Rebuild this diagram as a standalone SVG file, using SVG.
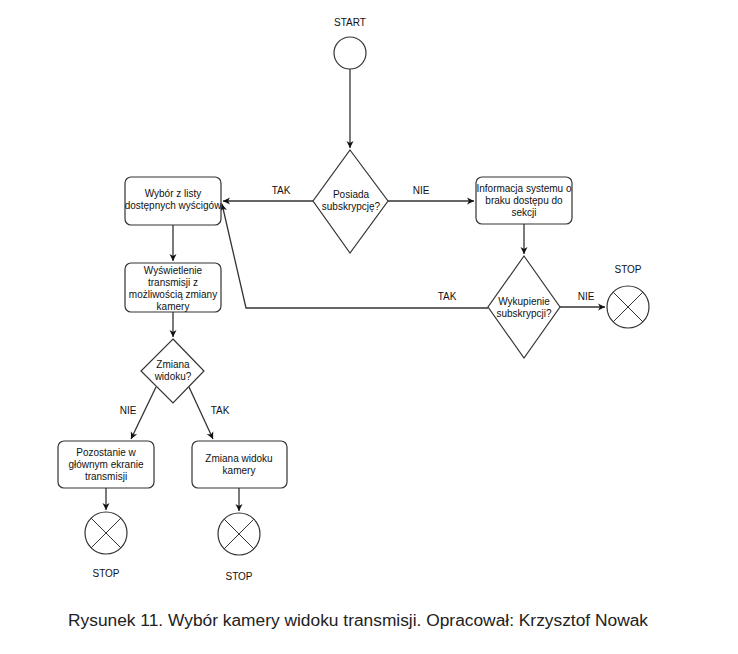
<svg xmlns="http://www.w3.org/2000/svg" width="738" height="654" viewBox="0 0 738 654">
<defs>
<style>
.n{fill:#fff;stroke:#333;stroke-width:1.2}
.t{font-family:"Liberation Sans",Arial,sans-serif;font-size:10px;fill:#111;text-anchor:middle}
.e{stroke:#333;stroke-width:1.3;fill:none}
.x{stroke:#333;stroke-width:1}
.cap{font-family:"Liberation Sans",Arial,sans-serif;font-size:16px;fill:#222}
</style>
<marker id="a" markerWidth="8" markerHeight="8" refX="7" refY="4" orient="auto" markerUnits="userSpaceOnUse">
<path d="M0,0.5 L7,4 L0,7.5 L2,4 Z" fill="#111"/>
</marker>
</defs>
<rect width="738" height="654" fill="#fff"/>
<g id="connectors">
<path class="e" d="M350,69 L350,148" marker-end="url(#a)"/>
<path class="e" d="M313,201 L223,201" marker-end="url(#a)"/>
<path class="e" d="M388,201 L474,201" marker-end="url(#a)"/>
<path class="e" d="M173,225 L173,261" marker-end="url(#a)"/>
<path class="e" d="M524,224 L524,254" marker-end="url(#a)"/>
<path class="e" d="M488,308 L246,308 L222,204" marker-end="url(#a)"/>
<path class="e" d="M560,307 L605,307" marker-end="url(#a)"/>
<path class="e" d="M173,312 L173,337" marker-end="url(#a)"/>
<path class="e" d="M156,387 L131,439" marker-end="url(#a)"/>
<path class="e" d="M189,387 L213,439" marker-end="url(#a)"/>
<path class="e" d="M106,488 L106,510" marker-end="url(#a)"/>
<path class="e" d="M239,488 L239,511" marker-end="url(#a)"/>
<text class="t" x="281" y="194">TAK</text>
<text class="t" x="421" y="194">NIE</text>
<text class="t" x="447" y="300">TAK</text>
<text class="t" x="586" y="300">NIE</text>
<text class="t" x="128" y="414">NIE</text>
<text class="t" x="220" y="414">TAK</text>
</g>
<g id="start">
<circle class="n" cx="350" cy="53" r="16"/>
<text class="t" x="350" y="26">START</text>
</g>
<g id="posiada">
<path class="n" d="M350,150 L388,201 L350,253 L313,201 Z"/>
<text class="t" x="351" y="198">Posiada</text>
<text class="t" x="351" y="210">subskrypcję?</text>
</g>
<g id="wybor">
<rect class="n" x="125" y="177" width="96" height="48" rx="6"/>
<text class="t" x="173" y="197">Wybór z listy</text>
<text class="t" x="173" y="209">dostępnych wyścigów</text>
</g>
<g id="informacja">
<rect class="n" x="476" y="177" width="96" height="47" rx="6"/>
<text class="t" x="524" y="192">Informacja systemu o</text>
<text class="t" x="524" y="204">braku dostępu do</text>
<text class="t" x="524" y="216">sekcji</text>
</g>
<g id="wykupienie">
<path class="n" d="M524,256 L560,307 L524,358 L488,307 Z"/>
<text class="t" x="524" y="305">Wykupienie</text>
<text class="t" x="524" y="317">subskrypcji?</text>
</g>
<g id="stop1">
<circle class="n" cx="628" cy="307" r="21"/>
<path class="x" d="M613.2,292.2 L642.8,321.8 M642.8,292.2 L613.2,321.8"/>
<text class="t" x="628" y="273">STOP</text>
</g>
<g id="wyswietlenie">
<rect class="n" x="125" y="263" width="96" height="49" rx="6"/>
<text class="t" x="173" y="274">Wyświetlenie</text>
<text class="t" x="173" y="286">transmisji z</text>
<text class="t" x="173" y="298">możliwością zmiany</text>
<text class="t" x="173" y="310">kamery</text>
</g>
<g id="zmiana">
<path class="n" d="M173,339 L204,371 L173,403 L141,371 Z"/>
<text class="t" x="173" y="368">Zmiana</text>
<text class="t" x="173" y="380">widoku?</text>
</g>
<g id="pozostanie">
<rect class="n" x="58" y="441" width="96" height="47" rx="6"/>
<text class="t" x="106" y="456">Pozostanie w</text>
<text class="t" x="106" y="468">głównym ekranie</text>
<text class="t" x="106" y="480">transmisji</text>
</g>
<g id="zmianawidoku">
<rect class="n" x="192" y="441" width="95" height="47" rx="6"/>
<text class="t" x="239" y="462">Zmiana widoku</text>
<text class="t" x="239" y="474">kamery</text>
</g>
<g id="stop2">
<circle class="n" cx="106" cy="533" r="21"/>
<path class="x" d="M91.2,518.2 L120.8,547.8 M120.8,518.2 L91.2,547.8"/>
<text class="t" x="106" y="577">STOP</text>
</g>
<g id="stop3">
<circle class="n" cx="239" cy="534" r="21"/>
<path class="x" d="M224.2,519.2 L253.8,548.8 M253.8,519.2 L224.2,548.8"/>
<text class="t" x="239" y="580">STOP</text>
</g>
<text class="cap" x="68" y="626" textLength="580" lengthAdjust="spacingAndGlyphs">Rysunek 11. Wybór kamery widoku transmisji. Opracował: Krzysztof Nowak</text>
</svg>
